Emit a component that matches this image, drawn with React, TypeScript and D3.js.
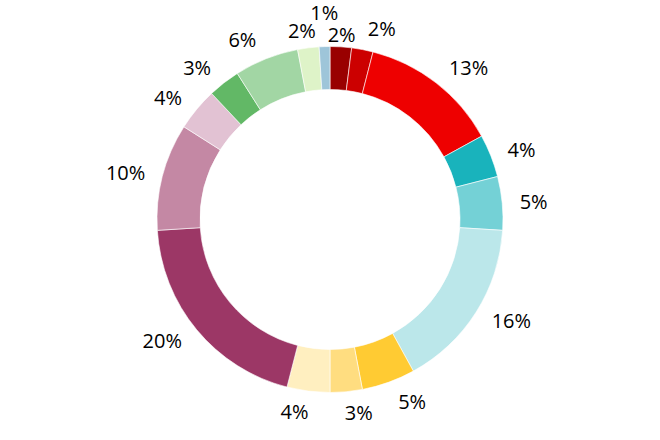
import React, { useMemo } from 'react';
import * as d3 from 'd3';

const categories = [
  'S1', 'S2', 'S3', 'S4', 'S5', 'S6', 'S7', 'S8',
  'S9', 'S10', 'S11', 'S12', 'S13', 'S14', 'S15', 'S16',
];
const values = [2, 2, 13, 4, 5, 16, 5, 3, 4, 20, 10, 4, 3, 6, 2, 1];
const colors = [
  '#990000', '#cc0000', '#ee0000', '#19b3bc', '#74d1d6', '#bbe7ea',
  '#ffcb33', '#ffdd80', '#ffefc0', '#9c3766', '#c488a4', '#e2c2d3',
  '#62b866', '#a2d6a4', '#def3c8', '#9ec5d9',
];

const W = 660;
const H = 440;
const CX = 330;
const CY = 219.5;
const R_OUT = 173;
const R_IN = 130;
const R_LABEL = 185;
const FONT_SIZE = 20;
const FONT = '"Open Sans", "Noto Sans", sans-serif';
const TEXT_H = 17;

function measure(text: string): number {
  const ctx = document.createElement('canvas').getContext('2d');
  if (!ctx) return text.length * FONT_SIZE * 0.66;
  ctx.font = `${FONT_SIZE}px "Open Sans"`;
  return ctx.measureText(text).width;
}

type Lab = { x: number; y: number; w: number; text: string };

export default function App() {
  const total = d3.sum(values);
  const data = categories.map((c, i) => ({ c, v: values[i], color: colors[i] }));
  const pie = d3.pie<any>().sort(null).value((d: any) => d.v).startAngle(0).endAngle(2 * Math.PI);
  const arcs = pie(data);
  const arc = d3.arc<any>().innerRadius(R_IN).outerRadius(R_OUT);

  const labels: Lab[] = useMemo(() => {
    const pct = d3.format('.0%');
    const ls: Lab[] = arcs.map((a: any) => {
      const t = (a.startAngle + a.endAngle) / 2;
      const s = Math.sin(t);
      const c = Math.cos(t);
      const text = pct(a.data.v / total);
      const w = measure(text);
      const ax = CX + R_LABEL * s;
      const ay = CY - R_LABEL * c;
      let x: number;
      if (c >= 0) {
        const g = Math.max(0, Math.min(1, (Math.abs(s) - 0.1) / 0.1));
        x = ax + Math.sign(s) * g * (w / 2 + 5.5);
      } else {
        const off = Math.max(-4, Math.min(5.5, -6 + 35 * Math.abs(s)));
        x = ax + Math.sign(s || 1) * (w / 2 + off);
      }
      const y = ay - 9 * c * Math.abs(c);
      return { x, y, w, text };
    });
    // simple collision avoidance: push overlapping labels apart vertically
    for (let iter = 0; iter < 30; iter++) {
      let moved = false;
      for (let i = 0; i < ls.length; i++) {
        for (let j = i + 1; j < ls.length; j++) {
          const a = ls[i];
          const b = ls[j];
          const hx = Math.abs(a.x - b.x) < (a.w + b.w) / 2 + 1;
          const dy = Math.abs(a.y - b.y);
          if (hx && dy < TEXT_H + 1) {
            const ov = (TEXT_H + 1 - dy) / 2;
            if (a.y <= b.y) { a.y -= ov; b.y += ov; } else { a.y += ov; b.y -= ov; }
            moved = true;
          }
        }
      }
      if (!moved) break;
    }
    return ls;
  }, []);

  return (
    <svg width={W} height={H} style={{ position: 'absolute', left: 0, top: 0, background: '#fff' }}>
      <g transform={`translate(${CX},${CY})`}>
        {arcs.map((a: any, i: number) => (
          <path key={i} d={arc(a) as string} fill={a.data.color} stroke="#ffffff" strokeWidth={0.6} />
        ))}
      </g>
      {labels.map((l, i) => (
        <text
          key={i}
          x={l.x}
          y={l.y + FONT_SIZE * 0.357}
          textAnchor="middle"
          fontFamily={FONT}
          fontSize={FONT_SIZE}
          fill="#000"
        >
          {l.text}
        </text>
      ))}
    </svg>
  );
}
